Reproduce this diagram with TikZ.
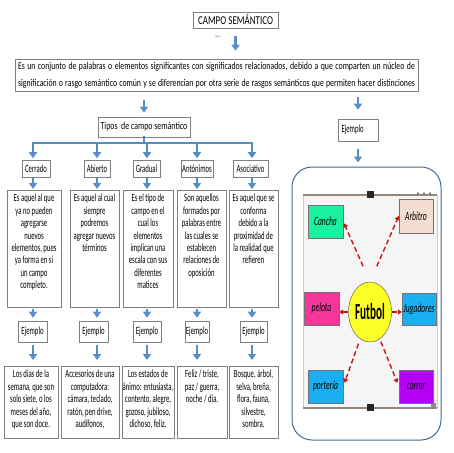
\documentclass[tikz,border=0pt]{standalone}
\usepackage{fontspec}
\usepackage{graphicx}
\setmainfont{Carlito}[FakeStretch=0.61]
\newfontfamily\widefont{Carlito}[FakeStretch=0.75]
\usetikzlibrary{arrows.meta,positioning,shapes.geometric}

\definecolor{arrowblue}{RGB}{86,140,200}
\definecolor{boxgray}{RGB}{128,128,128}
\definecolor{panelblue}{RGB}{65,105,150}
\definecolor{dashred}{RGB}{200,20,20}
\definecolor{shotgray}{RGB}{245,245,245}
\definecolor{shotline}{RGB}{150,135,120}
\definecolor{mint}{RGB}{25,240,160}
\definecolor{peach}{RGB}{242,221,208}
\definecolor{hotpink}{RGB}{245,55,155}
\definecolor{sky}{RGB}{25,175,240}
\definecolor{violet}{RGB}{180,0,245}
\definecolor{futyellow}{RGB}{255,255,40}

% box of fixed size, lines centred and set from the top
\newcommand{\cellbox}[3]{\parbox[c][#1][t]{#2}{\centering
    \makebox[0pt]{\begin{tabular}{@{}c@{}}#3\end{tabular}}}}

\begin{document}
\begin{tikzpicture}[x=1pt,y=-1pt,
    box/.style={draw=boxgray, line width=0.6pt, inner sep=0pt, align=center,
                font=\fontsize{11}{12}\selectfont},
    desc/.style={draw=boxgray, line width=0.6pt, inner xsep=1pt, inner ysep=3pt,
                font=\fontsize{11}{12.4}\selectfont},
    barrow/.style={draw=arrowblue, line width=2.6pt, -{Triangle[width=8pt,length=6pt]}},
    bline/.style={draw=arrowblue, line width=2.6pt, line cap=rect},
    rarrow/.style={draw=dashred, line width=1.4pt, dash pattern=on 5pt off 3pt,
                   -{Triangle[width=5pt,length=4pt]}},
    tag/.style={draw=black!55, line width=0.4pt, minimum width=35pt, minimum height=33pt,
                inner sep=0pt, font=\fontsize{12.5}{12.5}\selectfont\itshape}]

    \useasboundingbox (0,0) rectangle (453,453);
    \fill[white] (0,0) rectangle (453,453);

    \pgfmathsetmacro {\ybar}{143}    %y of the blue bar
    \pgfmathsetmacro {\ytyp}{169}    %centre of the type boxes
    \pgfmathsetmacro {\yej}{331.5}   %centre of the Ejemplo boxes

    %
    % Title and definition
    %
    \node[box, minimum width=85pt, minimum height=16pt, font=\widefont\fontsize{12}{12}\selectfont]
        (title) at (235.5,20) {CAMPO SEMÁNTICO};
    \node[font=\fontsize{3}{3}\selectfont, text=black!60] (queres) at (218,37) {Queres};
    \node[box, minimum width=403pt, minimum height=32pt, font=\widefont\fontsize{10.4}{17}\selectfont]
        (def) at (216.5,75)
        {\makebox[397pt][s]{Es un conjunto de palabras o elementos significantes con significados relacionados, debido a que comparten un núcleo de}\\
         \makebox[397pt][s]{significación o rasgo semántico común y se diferencian por otra serie de rasgos semánticos que permiten hacer distinciones}};
    \draw[barrow, shorten <=8pt, shorten >=8pt] (title.south) -- (title.south |- def.north);

    \node[box, minimum width=92pt, minimum height=20pt, font=\widefont\fontsize{10.5}{11}\selectfont]
        (tipos) at (144,127) {Tipos\ \ de campo semántico};
    \node[box, minimum width=40pt, minimum height=22pt, text width=33pt, align=left]
        (ejR) at (358,130) {Ejemplo};
    \draw[barrow, shorten <=9pt, shorten >=4pt] (tipos.north |- def.south) -- (tipos.north);
    \draw[barrow, shorten <=6pt, shorten >=9pt] (ejR.north |- def.south) -- (ejR.north);

    %
    % Types of semantic field
    %
    \coordinate (bar) at (tipos.south |- 0,\ybar);
    \draw[bline] (tipos.south) -- (bar);
    \foreach \i/\x/\w/\ax/\name in {1/36/28/33/Cerrado, 2/97/26/97/Abierto, 3/146.5/27/147/Gradual,
                                    4/197/32/197/Antónimos, 5/250.5/35/252/Asociativo} {
        \node[box, minimum width=\w pt, minimum height=17pt] (typ\i) at (\x,\ytyp) {\name};
        \coordinate (ax\i) at (\ax,\ybar);   %arrow column
    }
    \draw[bline] (ax1) -- (ax5);

    %Descriptions
    \node[desc, anchor=north] (desc1) at (34,190)
        {\cellbox{111pt}{52pt}{Es aquel al que\\ya no pueden\\agregarse\\nuevos\\elementos, pues\\ya forma en si\\un campo\\completo.}};
    \node[desc, anchor=north] (desc2) at (94.5,190)
        {\cellbox{111pt}{47pt}{Es aquel al cual\\siempre\\podremos\\agregar nuevos\\términos}};
    \node[desc, anchor=north] (desc3) at (148,190)
        {\cellbox{111pt}{48pt}{Es el tipo de\\campo en el\\cual los\\elementos\\implican una\\escala con sus\\diferentes\\matices}};
    \node[desc, anchor=north] (desc4) at (201.5,190)
        {\cellbox{111pt}{47pt}{Son aquellos\\formados por\\palabras entre\\las cuales se\\establecen\\relaciones de\\oposición}};
    \node[desc, anchor=north] (desc5) at (253.5,190)
        {\cellbox{111pt}{47pt}{Es aquel que se\\conforma\\debido a la\\proximidad de\\la realidad que\\refieren}};

    %Examples
    \node[desc, anchor=north] (ex1) at (31,366)
        {\cellbox{66pt}{52pt}{Los días de la\\semana, que son\\solo siete, o los\\meses del año,\\que son doce.}};
    \node[desc, anchor=north] (ex2) at (90,366)
        {\cellbox{66pt}{56pt}{Accesorios de una\\computadora:\\cámara, teclado,\\ratón, pen drive,\\audífonos,}};
    \node[desc, anchor=north] (ex3) at (148,366)
        {\cellbox{66pt}{50pt}{Los estados de\\ánimo: entusiasta,\\contento, alegre,\\gozoso, jubiloso,\\dichoso, feliz.}};
    \node[desc, anchor=north] (ex4) at (202,366)
        {\cellbox{66pt}{48pt}{Feliz / triste,\\paz / guerra,\\noche / día.}};
    \node[desc, anchor=north] (ex5) at (253.5,366)
        {\cellbox{66pt}{47pt}{Bosque, árbol,\\selva, breña,\\flora, fauna,\\silvestre,\\sombra.}};

    %Ejemplo boxes and the arrows of each column
    \foreach \i/\x/\w in {1/32.5/29, 2/93.5/29, 3/147/28, 4/197/24, 5/253.5/27} {
        \node[box, minimum width=\w pt, minimum height=21pt] (ej\i) at (\x,\yej) {Ejemplo};
        \draw[barrow, shorten >=2pt] (ax\i) -- (ax\i |- typ\i.north);
        \draw[barrow, shorten >=1pt] (ax\i |- typ\i.south) -- (ax\i |- desc\i.north);
        \draw[barrow, shorten <=1pt, shorten >=3pt] (ax\i |- desc\i.south) -- (ax\i |- ej\i.north);
        \draw[barrow, shorten <=3pt, shorten >=6pt] (ax\i |- ej\i.south) -- (ax\i |- ex\i.north);
    }

    %
    % Example on the right: Futbol
    %
    \node[draw=panelblue, line width=1pt, rounded corners=20pt, minimum width=149pt,
          minimum height=273pt] (panel) at (366.5,303.5) {};
    \draw[barrow, shorten <=8pt, shorten >=4pt] (ejR.south) -- (ejR.south |- panel.north);

    \fill[shotgray] (303,195) rectangle (437,408);                 %screenshot
    \draw[black!20, line width=0.5pt] (303,195) -- (303,408) (437,195) -- (437,408);
    \draw[shotline, line width=1.2pt] (303,195) -- (437,195) (303,408) -- (437,408);
    \fill[black!85] (367,191) rectangle (374,198);                 %handles
    \fill[black!85] (367,404) rectangle (374,411);
    \foreach \d in {418,424,430} \fill[black!50] (\d,193.5) circle (1.3pt);
    \fill[black!45] (431,403) rectangle (436,408);

    \node[draw=black!70, fill=futyellow, ellipse, minimum width=43pt, minimum height=60pt,
          inner sep=0pt] (fut) at (370,312)
          {\scalebox{0.8}[1]{\fontsize{23}{23}\selectfont\bfseries Futbol}};
    \node[tag, fill=mint] (cancha) at (325.5,221.5) {Cancha};
    \node[tag, fill=peach, minimum width=34pt, minimum height=34pt] (arbitro) at (416,216) {Arbitro};
    \node[tag, fill=hotpink] (pelota) at (321.5,308.5) {pelota};
    \node[tag, fill=sky, minimum width=34pt, minimum height=32pt] (jugadores) at (419,309) {Jugadores};
    \node[tag, fill=sky] (porteria) at (325.5,386.5) {portería};
    \node[tag, fill=violet, minimum width=34pt] (correr) at (416,386.5) {correr};

    \draw[rarrow, shorten <=17pt, shorten >=2pt] (fut.north) -- (cancha.east);
    \draw[rarrow, shorten <=17pt] (fut.north) -- (arbitro.west);
    \draw[rarrow] (fut.west) -- (fut.west -| pelota.east);
    \draw[rarrow] (fut.east) -- (fut.east -| jugadores.west);
    \draw[rarrow, shorten <=5pt, shorten >=4pt] (fut.250) -- (porteria.east);
    \draw[rarrow, shorten <=3pt, shorten >=4pt] (fut.290) -- (correr.west);
\end{tikzpicture}
\end{document}
